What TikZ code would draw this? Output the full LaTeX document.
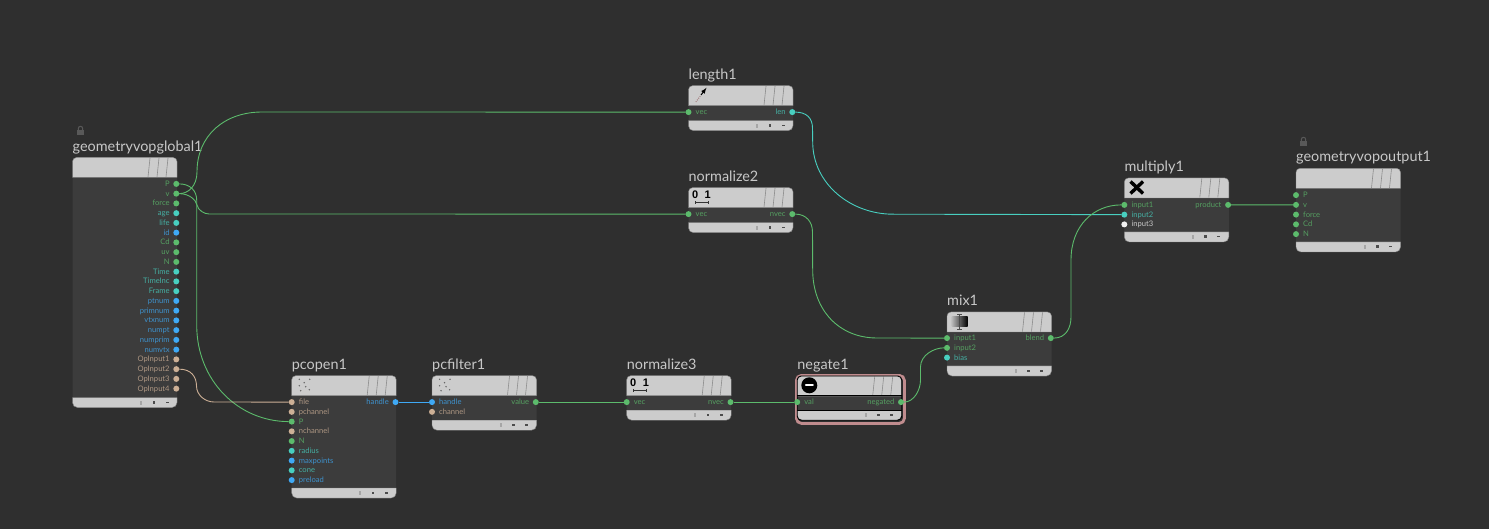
\documentclass[tikz,border=0pt]{standalone}
\usepackage{fontspec}
\setmainfont{Lato}
\newfontfamily\iconfont{Liberation Sans}
\definecolor{vopbg}{HTML}{2F2F2F}
\definecolor{vopbody}{HTML}{3C3C3C}
\definecolor{vophead}{HTML}{CCCCCC}
\definecolor{voptext}{HTML}{C8C8C8}
\definecolor{wgreen}{HTML}{5CBB6C}
\definecolor{wteal}{HTML}{48CFC0}
\definecolor{wblue}{HTML}{3FA9F5}
\definecolor{wtan}{HTML}{CDB096}
\definecolor{wwhite}{HTML}{F0F0F0}
\definecolor{negpink}{HTML}{C08C8E}
% box of one vop: name, left, top, height
\newcommand{\vopbox}[4]{
  \node[vopnode,minimum height=#4] (#1) at (#2,#3) {};
  \fill[vophead,draw=gray] ([yshift=-20]#1.north west) [rounded corners=4] -- (#1.north west)
    -- (#1.north east) [sharp corners] -- ([yshift=-20]#1.north east) -- cycle;
  \fill[vophead,draw=gray] ([yshift=10]#1.south west) [rounded corners=5] -- (#1.south west)
    -- (#1.south east) [sharp corners] -- ([yshift=10]#1.south east) -- cycle;
  \node[voptitle] (#1-title) at ([yshift=6.3]#1.north west) {#1};
  \begin{scope}[shift={(#1.north east)},draw=gray!90]
    \foreach \i in {29,20,11} \draw[line width=.6] (-\i,19.5) -- (-\i+2,.5);
  \end{scope}
  \begin{scope}[shift={(#1.south east)}]
    \fill[gray!70] (-37,-7) rectangle (-35,-3);
    \fill[black!70] (-24.5,-6.5) rectangle (-22,-4);
    \fill[black!70] (-11.5,-6) rectangle (-8.5,-4.5);
  \end{scope}
}
% ports on the left and on the right: box, first y, list
\newcommand{\vopin}[3]{
  \foreach \port/\col [count=\i from 0] in {#3} {
    \pgfmathsetmacro\yy{#2+.4+9.75*\i}
    \node[port=\col] (#1-\port) at (#1.west |- 0,\yy) {};
    \node[portlabel=\col,anchor=base west] (#1-\port-text) at ([xshift=7,yshift=-2.6]#1-\port.center) {\port};
  }
}
\newcommand{\vopout}[3]{
  \foreach \port/\col [count=\i from 0] in {#3} {
    \pgfmathsetmacro\yy{#2+.4+9.75*\i}
    \node[port=\col] (#1-\port) at ([xshift=-.7]#1.east |- 0,\yy) {};
    \node[portlabel=\col,anchor=base east] (#1-\port-text) at ([xshift=-6.5,yshift=-2.6]#1-\port.center) {\port};
  }
}
\newcommand{\voplock}[2]{
  \fill[gray!70!black] (#1-3.8,#2-1) rectangle (#1+3.8,#2+4.5);
  \draw[gray!70!black,line width=1] (#1-2.2,#2-1) -- (#1-2.2,#2-2.5) arc (180:360:2.2) -- (#1+2.2,#2-1);
}
\newcommand{\vopdots}[1]{
  \begin{scope}[shift={(#1.north west)}]
    \foreach \a/\b in {7.6/3.6,18/3.6,12.5/7,7.6/10,14/11,9/15,17.6/14}
      \fill[gray!80!black] (\a,\b) circle (.8);
  \end{scope}
}
\newcommand{\vopzeroone}[1]{
  \node[iconnum] (#1-zero) at ([xshift=6.6,yshift=-7]#1.north west) {0};
  \node[iconnum] (#1-one) at ([xshift=19.3,yshift=-7]#1.north west) {1};
  \draw[black!80,line width=.5] ([xshift=6.6,yshift=-14.7]#1.north west) -- ([xshift=20,yshift=-14.7]#1.north west);
  \draw[black!80,line width=.5] ([xshift=6.6,yshift=-13.2]#1.north west) -- ([xshift=6.6,yshift=-16.2]#1.north west);
  \draw[black!80,line width=.5] ([xshift=20,yshift=-13.2]#1.north west) -- ([xshift=20,yshift=-16.2]#1.north west);
}
\begin{document}
\begin{tikzpicture}[
  x=1pt,y=-1pt,
  vopnode/.style={anchor=north west,inner sep=0,outer sep=0,fill=vopbody,rounded corners=4,minimum width=104.5},
  voptitle/.style={anchor=base west,inner sep=0,text=voptext,font=\fontsize{14.4}{16}\selectfont},
  port/.style={circle,inner sep=0,minimum size=6,outer sep=0,fill=#1},
  portlabel/.style={inner sep=0,text=#1!78!vopbody,font=\fontsize{7.6}{9}\selectfont},
  iconnum/.style={inner sep=0,text=black,font=\fontsize{11}{12}\selectfont\iconfont\bfseries},
  wire/.style={draw=#1,line width=.9},
  ]
  \fill[vopbg] (0,0) rectangle (1489,529);
  \useasboundingbox (0,0) rectangle (1489,529);
  % boxes
  \voplock{80.5}{131}
  \voplock{1303.5}{142}
  \vopbox{geometryvopglobal1}{72.5}{157.5}{250}
  \vopbox{pcopen1}{291.7}{375.7}{122.3}
  \vopbox{pcfilter1}{432}{375.7}{54.5}
  \vopbox{normalize3}{626.7}{375.7}{44.5}
  \node[draw=negpink,line width=2.8,rounded corners=5,inner sep=0,minimum width=108,minimum height=48,anchor=north west] (negate1-ring) at (795,374) {};
  \vopbox{negate1}{797.2}{376}{44.2}
  \vopbox{length1}{688.5}{85.7}{45}
  \vopbox{normalize2}{688.5}{187.7}{45}
  \vopbox{mix1}{947}{312}{64}
  \vopbox{multiply1}{1124.3}{178}{64}
  \vopbox{geometryvopoutput1}{1296}{168.3}{83.7}
  % black outline of negate1
  \draw[black,line width=.9,rounded corners=4] (negate1.north west) rectangle (negate1.south east);
  \draw[black,line width=.9] ([yshift=-19.5]negate1.north west) -- ([yshift=-19.5]negate1.north east);
  \draw[black,line width=.9] ([yshift=10]negate1.south west) -- ([yshift=10]negate1.south east);
  % ports
  \vopout{geometryvopglobal1}{183.5}{P/wgreen,v/wgreen,force/wgreen,age/wteal,life/wteal,id/wblue,Cd/wgreen,uv/wgreen,N/wgreen,Time/wteal,TimeInc/wteal,Frame/wteal,ptnum/wblue,primnum/wblue,vtxnum/wblue,numpt/wblue,numprim/wblue,numvtx/wblue,OpInput1/wtan,OpInput2/wtan,OpInput3/wtan,OpInput4/wtan}
  \vopin{pcopen1}{401.7}{file/wtan,pchannel/wtan,P/wgreen,nchannel/wtan,N/wgreen,radius/wteal,maxpoints/wblue,cone/wteal,preload/wblue}
  \vopout{pcopen1}{401.7}{handle/wblue}
  \vopin{pcfilter1}{401.7}{handle/wblue,channel/wtan}
  \vopout{pcfilter1}{401.7}{value/wgreen}
  \vopin{normalize3}{401.7}{vec/wgreen}
  \vopout{normalize3}{401.7}{nvec/wgreen}
  \vopin{negate1}{401.7}{val/wgreen}
  \vopout{negate1}{401.7}{negated/wgreen}
  \vopin{length1}{111.7}{vec/wgreen}
  \vopout{length1}{111.7}{len/wteal}
  \vopin{normalize2}{213.7}{vec/wgreen}
  \vopout{normalize2}{213.7}{nvec/wgreen}
  \vopin{mix1}{337.7}{input1/wgreen,input2/wgreen,bias/wteal}
  \vopout{mix1}{337.7}{blend/wgreen}
  \vopin{multiply1}{204.5}{input1/wgreen,input2/wteal,input3/wwhite}
  \vopout{multiply1}{204.5}{product/wgreen}
  \vopin{geometryvopoutput1}{194.7}{P/wgreen,v/wgreen,force/wgreen,Cd/wgreen,N/wgreen}
  % icons
  \vopdots{pcopen1}
  \vopdots{pcfilter1}
  \vopzeroone{normalize3}
  \vopzeroone{normalize2}
  \draw[black,line width=3.4] (1130.5,181.5) -- (1143,193.5) (1143,181.5) -- (1130.5,193.5);
  \fill[black] (809.3,385.3) circle (8);
  \draw[white,line width=2,line cap=round] (805.8,385.3) -- (812.8,385.3);
  \shade[left color=gray!55,right color=black] (951.7,316.7) rectangle (967.7,326.7);
  \draw[black!70,line width=.5] (957,314.5) -- (961.5,314.5) (959.3,314.5) -- (959.3,329.5) (957,329.5) -- (961.5,329.5);
  \draw[black,line width=1,-latex] (701,95) -- (706.5,87.8);
  \foreach \a/\b in {700/96.5,698.7/98.2,697.4/99.9,696.1/101.6}
    \fill[negpink!85!black] (\a,\b) circle (.7);
  % wires
  \draw[wire=wgreen] (geometryvopglobal1-v.east) .. controls +(9,0) and +(0,14) .. (197,172)
    .. controls +(0,-37) and +(-37,0) .. (262,112) -- (length1-vec.west);
  \draw[wire=wgreen] (geometryvopglobal1-v.east) .. controls +(10,0) and +(-1,-5) .. (197,205)
    .. controls +(1,5) and +(-5,0) .. (209,214) -- (normalize2-vec.west);
  \draw[wire=wgreen] (geometryvopglobal1-P.east) .. controls +(11,0) and +(0,-9) .. (196.7,200)
    -- (196.7,325) .. controls +(0,56) and +(-50,0) .. (pcopen1-P.west);
  \draw[wire=wtan] (geometryvopglobal1-OpInput2.east) .. controls +(12,0) and +(0,-9) .. (196.5,386)
    .. controls +(0,9) and +(-9,0) .. (214,402) -- (pcopen1-file.west);
  \draw[wire=wblue,line width=1.1] (pcopen1-handle.east) -- (pcfilter1-handle.west);
  \draw[wire=wgreen] (pcfilter1-value.east) -- (normalize3-vec.west);
  \draw[wire=wgreen] (normalize3-nvec.east) -- (negate1-val.west);
  \draw[wire=wteal] (length1-len.east) .. controls +(11,0) and +(0,-10) .. (812.5,128) -- (812.7,142)
    .. controls +(0,42) and +(-42,0) .. (893,214.2) -- (multiply1-input2.west);
  \draw[wire=wgreen] (normalize2-nvec.east) .. controls +(11,0) and +(0,-10) .. (812.5,232) -- (812.7,270)
    .. controls +(0,40) and +(-38,0) .. (877,338) -- (mix1-input1.west);
  \draw[wire=wgreen] (negate1-negated.east) .. controls +(10,0) and +(0,10) .. (920.5,380) -- (920.5,367)
    .. controls +(0,-12) and +(-10,0) .. (mix1-input2.west);
  \draw[wire=wgreen] (mix1-blend.east) .. controls +(12,0) and +(0,11) .. (1071,317) -- (1071,260)
    .. controls +(0,-34) and +(-28,0) .. (multiply1-input1.west);
  \draw[wire=wgreen] (multiply1-product.east) -- (geometryvopoutput1-v.west);
\end{tikzpicture}
\end{document}
